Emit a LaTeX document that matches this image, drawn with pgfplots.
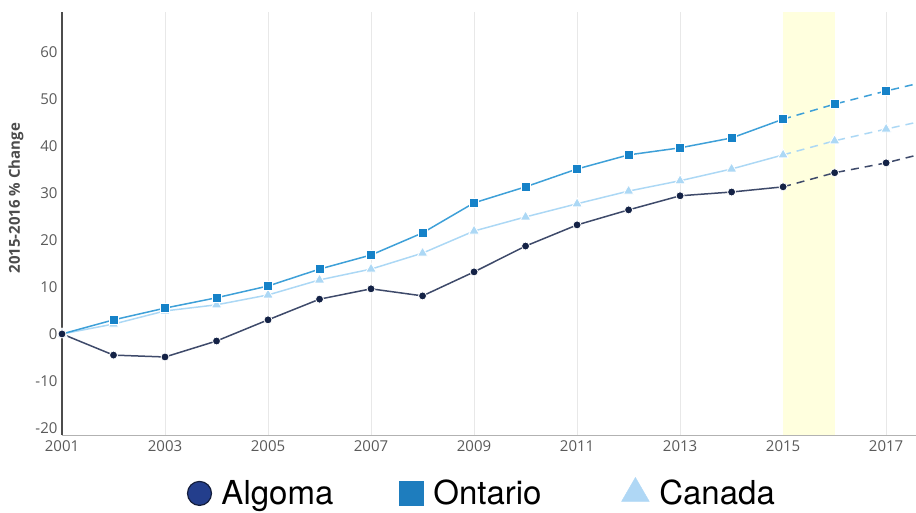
\documentclass[border=0pt]{standalone}
\usepackage{fontspec}
\setmainfont{Open Sans}
\newfontfamily\legfont{TeX Gyre Heros}
\usepackage{pgfplots}
\pgfplotsset{compat=1.18}
\pgfplotsset{onemark/.style={legend image code/.code={\draw[##1] plot coordinates {(0pt,0pt)};}}}

\definecolor{algline}{RGB}{62,74,106}
\definecolor{algmark}{RGB}{20,34,70}
\definecolor{ontline}{RGB}{62,160,216}
\definecolor{ontmark}{RGB}{22,130,200}
\definecolor{canline}{RGB}{172,216,245}
\definecolor{hl}{RGB}{255,255,222}
\definecolor{ticktext}{RGB}{90,90,90}
\definecolor{legalg}{RGB}{35,62,140}
\definecolor{legalgb}{RGB}{20,30,60}
\definecolor{legont}{RGB}{30,125,190}
\definecolor{legcan}{RGB}{175,215,245}

\begin{document}
\begin{tikzpicture}[x=1pt,y=1pt]
\useasboundingbox (0,0) rectangle (916,512);
\begin{axis}[
  at={(62pt,77pt)}, anchor=south west,
  scale only axis, width=854pt, height=423pt,
  xmin=2001, xmax=2017.58, ymin=-21.5, ymax=68.5,
  axis x line*=bottom, axis y line*=left,
  x axis line style={-, draw=black!30, line width=0.8pt},
  y axis line style={-, draw=black!70, line width=1.6pt},
  xtick={2001,2003,...,2017},
  ytick={-20,-10,...,60},
  major tick length=0pt,
  xmajorgrids, major grid style={draw=black!9, line width=0.9pt},
  /pgf/number format/assume math mode=true,
  /pgf/number format/set thousands separator={},
  tick label style={font=\fontsize{15}{18}\selectfont, text=ticktext},
  xticklabel style={yshift=-2pt},
  yticklabel style={xshift=-1pt},
  ylabel={\textbf{2015-2016 \% Change}},
  ylabel style={font=\fontsize{15}{18}\selectfont, text=black!70,
    at={(axis description cs:-0.054,0.56)}, anchor=center},
  legend style={at={(axis description cs:0.492,-0.137)}, anchor=center,
    draw=none, fill=none, legend columns=3,
    font=\legfont\fontsize{33}{37}\selectfont,
    /tikz/column 1/.style={column sep=8pt},
    /tikz/column 2/.style={column sep=64pt},
    /tikz/column 3/.style={column sep=8pt},
    /tikz/column 4/.style={column sep=78pt},
    /tikz/column 5/.style={column sep=8pt}},
  legend cell align=left,
]
% highlighted forecast year
\addplot[fill=hl, draw=none, forget plot] coordinates
  {(2015,-21.5) (2015,68.5) (2016,68.5) (2016,-21.5)} -- cycle;

% Canada
\addplot[canline, line width=1.5pt, forget plot] coordinates {
 (2001,0) (2002,2.1) (2003,4.9) (2004,6.2) (2005,8.3) (2006,11.5) (2007,13.8)
 (2008,17.2) (2009,21.9) (2010,24.9) (2011,27.7) (2012,30.4) (2013,32.6)
 (2014,35.1) (2015,38.1)};
\addplot[canline, line width=1.5pt, dash pattern=on 8pt off 6pt, forget plot] coordinates {
 (2015,38.1) (2016,41.1) (2017,43.6) (2017.58,45.0)};
\addplot[only marks, mark=triangle*, mark size=6pt, forget plot,
  mark options={fill=canline, draw=white, line width=0.8pt}] coordinates {
 (2001,0) (2002,2.1) (2003,4.9) (2004,6.2) (2005,8.3) (2006,11.5) (2007,13.8)
 (2008,17.2) (2009,21.9) (2010,24.9) (2011,27.7) (2012,30.4) (2013,32.6)
 (2014,35.1) (2015,38.1) (2016,41.1) (2017,43.6)};

% Ontario
\addplot[ontline, line width=1.5pt, forget plot] coordinates {
 (2001,0) (2002,3.0) (2003,5.5) (2004,7.7) (2005,10.2) (2006,13.8) (2007,16.8)
 (2008,21.5) (2009,27.9) (2010,31.3) (2011,35.1) (2012,38.1) (2013,39.6)
 (2014,41.7) (2015,45.7)};
\addplot[ontline, line width=1.5pt, dash pattern=on 8pt off 6pt, forget plot] coordinates {
 (2015,45.7) (2016,48.9) (2017,51.7) (2017.58,53.2)};
\addplot[only marks, mark=square*, mark size=4.5pt, forget plot,
  mark options={fill=ontmark, draw=white, line width=0.8pt}] coordinates {
 (2002,3.0) (2003,5.5) (2004,7.7) (2005,10.2) (2006,13.8) (2007,16.8)
 (2008,21.5) (2009,27.9) (2010,31.3) (2011,35.1) (2012,38.1) (2013,39.6)
 (2014,41.7) (2015,45.7) (2016,48.9) (2017,51.7)};

% Algoma
\addplot[algline, line width=1.5pt, forget plot] coordinates {
 (2001,0) (2002,-4.5) (2003,-4.9) (2004,-1.5) (2005,3.0) (2006,7.4) (2007,9.6)
 (2008,8.1) (2009,13.2) (2010,18.7) (2011,23.2) (2012,26.4) (2013,29.4)
 (2014,30.2) (2015,31.3)};
\addplot[algline, line width=1.5pt, dash pattern=on 8pt off 6pt, forget plot] coordinates {
 (2015,31.3) (2016,34.3) (2017,36.4) (2017.58,38.0)};
\addplot[only marks, mark=*, mark size=4pt, forget plot,
  mark options={fill=algmark, draw=white, line width=0.8pt}] coordinates {
 (2001,0) (2002,-4.5) (2003,-4.9) (2004,-1.5) (2005,3.0) (2006,7.4) (2007,9.6)
 (2008,8.1) (2009,13.2) (2010,18.7) (2011,23.2) (2012,26.4) (2013,29.4)
 (2014,30.2) (2015,31.3) (2016,34.3) (2017,36.4)};

% legend
\addlegendimage{only marks, onemark, mark=*, mark size=12pt,
  mark options={fill=legalg, draw=legalgb, line width=1.2pt}}
\addlegendentry{Algoma}
\addlegendimage{only marks, onemark, mark=square*, mark size=12pt,
  mark options={fill=legont, draw=legont}}
\addlegendentry{Ontario}
\addlegendimage{only marks, onemark, mark=triangle*, mark size=16pt,
  mark options={fill=legcan, draw=legcan}}
\addlegendentry{Canada}
\end{axis}
\end{tikzpicture}
\end{document}
